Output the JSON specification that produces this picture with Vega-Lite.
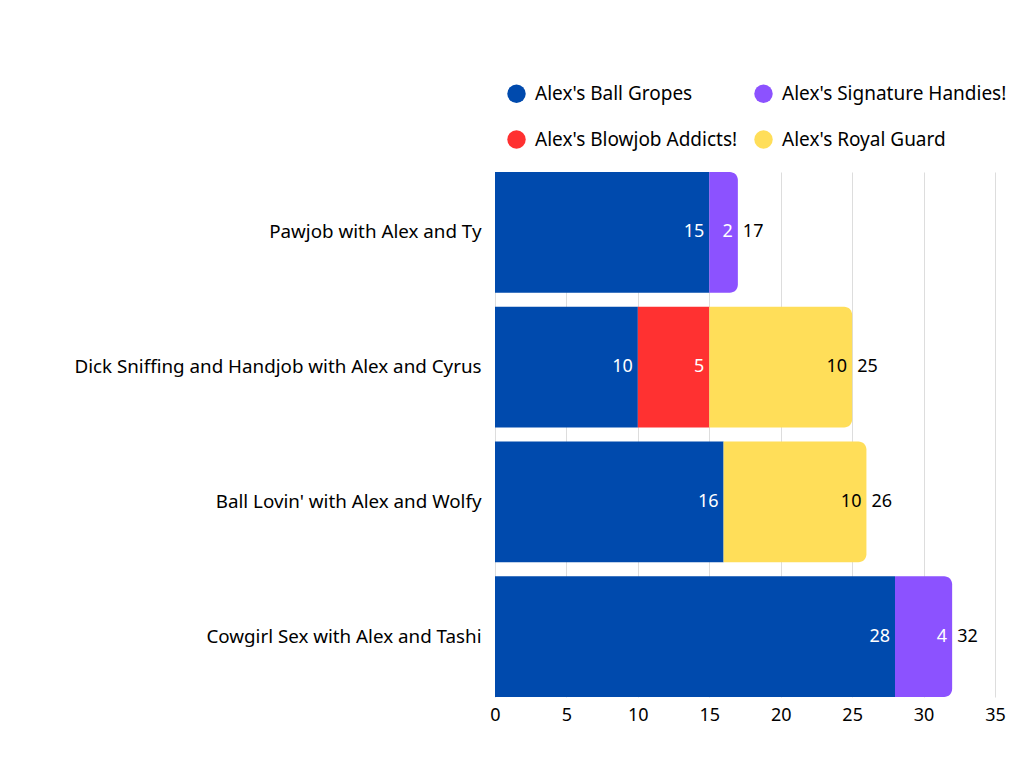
{
  "$schema": "https://vega.github.io/schema/vega-lite/v6.json",
  "width": 500,
  "height": 525,
  "autosize": "none",
  "padding": {"left": 495, "top": 172, "right": 29, "bottom": 71},
  "config": {"font": "Noto Sans", "view": {"stroke": null}},
  "data": {
    "values": [
      {"task": "Pawjob with Alex and Ty", "series": "Alex's Ball Gropes", "value": 15},
      {"task": "Pawjob with Alex and Ty", "series": "Alex's Signature Handies!", "value": 2},
      {"task": "Dick Sniffing and Handjob with Alex and Cyrus", "series": "Alex's Ball Gropes", "value": 10},
      {"task": "Dick Sniffing and Handjob with Alex and Cyrus", "series": "Alex's Blowjob Addicts!", "value": 5},
      {"task": "Dick Sniffing and Handjob with Alex and Cyrus", "series": "Alex's Royal Guard", "value": 10},
      {"task": "Ball Lovin' with Alex and Wolfy", "series": "Alex's Ball Gropes", "value": 16},
      {"task": "Ball Lovin' with Alex and Wolfy", "series": "Alex's Royal Guard", "value": 10},
      {"task": "Cowgirl Sex with Alex and Tashi", "series": "Alex's Ball Gropes", "value": 28},
      {"task": "Cowgirl Sex with Alex and Tashi", "series": "Alex's Signature Handies!", "value": 4}
    ]
  },
  "transform": [
    {"stack": "value", "groupby": ["task"], "sort": [{"field": "series"}], "as": ["x0", "x1"]},
    {"joinaggregate": [{"op": "sum", "field": "value", "as": "total"}], "groupby": ["task"]}
  ],
  "encoding": {
    "y": {
      "field": "task",
      "type": "nominal",
      "sort": ["Pawjob with Alex and Ty", "Dick Sniffing and Handjob with Alex and Cyrus", "Ball Lovin' with Alex and Wolfy", "Cowgirl Sex with Alex and Tashi"],
      "scale": {"paddingInner": 0.104, "paddingOuter": 0},
      "axis": {"title": null, "domain": false, "ticks": false, "labelPadding": 14, "labelFontSize": 18.8, "labelColor": "#000000", "labelLimit": 0}
    }
  },
  "layer": [
    {
      "transform": [{"filter": "datum.x1 < datum.total"}],
      "mark": {"type": "bar"},
      "encoding": {
        "x": {"field": "x0", "type": "quantitative", "scale": {"domain": [0, 35]},
          "axis": {"title": null, "values": [0, 5, 10, 15, 20, 25, 30, 35], "domain": false, "ticks": false, "labelFlush": false, "labelPadding": 9, "labelFontSize": 18, "labelColor": "#000000", "gridColor": "#dddddd", "gridWidth": 1}},
        "x2": {"field": "x1"},
        "color": {
          "field": "series", "type": "nominal",
          "scale": {"domain": ["Alex's Ball Gropes", "Alex's Signature Handies!", "Alex's Blowjob Addicts!", "Alex's Royal Guard"],
                    "range": ["#004AAD", "#8C52FF", "#FF3131", "#FFDE59"]},
          "legend": {"title": null, "orient": "none", "legendX": 12, "legendY": -88, "direction": "horizontal", "columns": 2,
                     "symbolType": "circle", "symbolSize": 340, "symbolStrokeWidth": 0, "labelFontSize": 19, "labelColor": "#000000",
                     "labelOffset": 9, "rowPadding": 26, "columnPadding": 16, "labelLimit": 0}
        }
      }
    },
    {
      "transform": [{"filter": "datum.x1 >= datum.total"}],
      "mark": {"type": "bar", "cornerRadiusTopRight": 8, "cornerRadiusBottomRight": 8},
      "encoding": {
        "x": {"field": "x0", "type": "quantitative"},
        "x2": {"field": "x1"},
        "color": {"field": "series", "type": "nominal"}
      }
    },
    {
      "mark": {"type": "text", "align": "right", "baseline": "middle", "dx": -5, "fontSize": 18},
      "encoding": {
        "x": {"field": "x1", "type": "quantitative"},
        "text": {"field": "value", "type": "quantitative"},
        "color": {"condition": {"test": "datum.series === \"Alex's Royal Guard\"", "value": "#000000"}, "value": "#ffffff"}
      }
    },
    {
      "transform": [{"filter": "datum.x1 >= datum.total"}],
      "mark": {"type": "text", "align": "left", "baseline": "middle", "dx": 5, "fontSize": 18, "color": "#000000"},
      "encoding": {
        "x": {"field": "total", "type": "quantitative"},
        "text": {"field": "total", "type": "quantitative"}
      }
    }
  ]
}
